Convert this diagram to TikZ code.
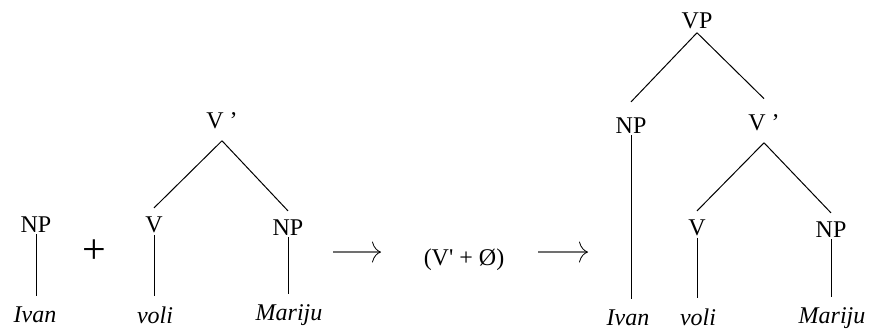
\documentclass[tikz,border=0pt]{standalone}
\usepackage{fontspec}
\setmainfont{Liberation Serif}
\usetikzlibrary{arrows.meta,calc}
\definecolor{ink}{HTML}{000000}
\definecolor{arrowgray}{HTML}{707070}

\begin{document}
\begin{tikzpicture}[x=0.5pt,y=-0.5pt,
  every node/.style={font=\fontsize{12}{14}\selectfont,inner sep=1pt},
  cat/.style={anchor=base},
  word/.style={anchor=base,font=\fontsize{12}{14}\selectfont\itshape,inner ysep=5pt},
  branch/.style={ink,line width=0.5pt},
  stem/.style={ink,line width=0.5pt},
  derive/.style={arrowgray,line width=0.7pt,-{To[length=4.5pt,width=10.5pt,line width=0.4pt,color=ink]}}]
\useasboundingbox (0,0) rectangle (870,329);
% left: NP + V'
\node[cat] (npA) at (36,232) {NP};
\node[word] (ivanA) at (35,322) {Ivan};
\draw[stem] (npA.south) -- (npA.south |- ivanA.north);
\node[font=\fontsize{21}{24}\selectfont] (plus) at (94,252) {+};
\node[cat] (vbarA) at (222,128) {V ’};
\node[cat] (vA) at (154,232) {V};
\node[cat] (npB) at (288,235) {NP};
\node[word] (voliA) at (155,323) {voli};
\node[word] (marijuA) at (289,320) {Mariju};
\draw[branch] ([yshift=-5pt]vbarA.south) -- ([yshift=3pt]vA.north);
\draw[branch] ([yshift=-5pt]vbarA.south) -- ([yshift=3pt]npB.north);
\draw[stem] (vA.south) -- (vA.south |- voliA.north);
\draw[stem] (npB.south) -- (npB.south |- marijuA.north);
% derivation
\coordinate (arrA) at (333,252);
\coordinate (arrAend) at (381,252);
\node[cat] (mid) at (464,265) {(V\textquotesingle{} + Ø)};
\coordinate (arrB) at (538,252);
\coordinate (arrBend) at (588,252);
\draw[derive] (arrA) -- (arrAend);
\draw[derive] (arrB) -- (arrBend);
% right: VP
\node[cat] (vp) at (697,28) {VP};
\node[cat] (npC) at (631,133) {NP};
\node[cat] (vbarB) at (764,130) {V ’};
\node[cat] (vB) at (697,235) {V};
\node[cat] (npD) at (831,237) {NP};
\node[word] (ivanB) at (628,325) {Ivan};
\node[word] (voliB) at (698,325) {voli};
\node[word] (marijuB) at (832,323) {Mariju};
\draw[branch] ([yshift=-1pt]vp.south) -- ([yshift=6.5pt]npC.north);
\draw[branch] ([yshift=-1pt]vp.south) -- ([yshift=6.5pt]vbarB.north);
\draw[branch] ([yshift=-5pt]vbarB.south) -- ([yshift=3pt]vB.north);
\draw[branch] ([yshift=-5pt]vbarB.south) -- ([yshift=3pt]npD.north);
\draw[stem] (npC.south) -- (npC.south |- ivanB.north);
\draw[stem] (vB.south) -- (vB.south |- voliB.north);
\draw[stem] (npD.south) -- (npD.south |- marijuB.north);
\end{tikzpicture}
\end{document}
